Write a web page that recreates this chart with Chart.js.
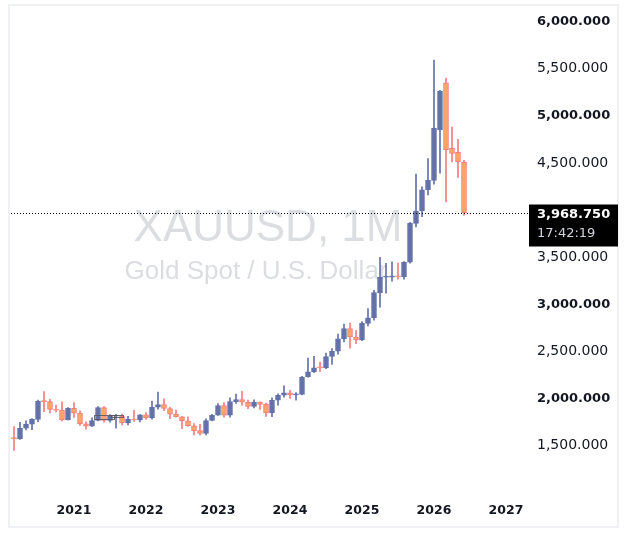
<!DOCTYPE html>
<html lang="en">
<head>
  <meta charset="UTF-8" />
  <title>XAUUSD, 1M</title>
  <script src="https://cdn.jsdelivr.net/npm/chart.js"></script>
  <style>
    html, body { margin: 0; padding: 0; background: #fff; }
    canvas { display: block; }
  </style>
</head>
<body>
  <canvas id="gold" width="629" height="538"></canvas>

  <script>
    // monthly categories (last ones are empty space to the right of the price)
    const months = [
      '2020-03','2020-04','2020-05','2020-06','2020-07','2020-08','2020-09','2020-10','2020-11','2020-12',
      '2021-01','2021-02','2021-03','2021-04','2021-05','2021-06','2021-07','2021-08','2021-09','2021-10','2021-11','2021-12',
      '2022-01','2022-02','2022-03','2022-04','2022-05','2022-06','2022-07','2022-08','2022-09','2022-10','2022-11','2022-12',
      '2023-01','2023-02','2023-03','2023-04','2023-05','2023-06','2023-07','2023-08','2023-09','2023-10','2023-11','2023-12',
      '2024-01','2024-02','2024-03','2024-04','2024-05','2024-06','2024-07','2024-08','2024-09','2024-10','2024-11','2024-12',
      '2025-01','2025-02','2025-03','2025-04','2025-05','2025-06','2025-07','2025-08','2025-09','2025-10','2025-11','2025-12',
      '2026-01','2026-02','2026-03','2026-04','2026-05','2026-06','2026-07','2026-08','2026-09','2026-10','2026-11','2026-12',
      '2027-01','2027-02','2027-03'
    ];

    const opens = [
      1586, 1577, 1687, 1730, 1781, 1975, 1968, 1886, 1879, 1776,
      1898, 1847, 1734, 1708, 1769, 1907, 1770, 1814, 1814, 1743, 1783, 1774,
      1829, 1797, 1909, 1937, 1896, 1837, 1807, 1766, 1711, 1661, 1633, 1769,
      1824, 1928, 1826, 1969, 1990, 1962, 1919, 1965, 1940, 1849, 1983, 2036,
      2063, 2040, 2044, 2230, 2286, 2327, 2326, 2447, 2503, 2634, 2744, 2654,
      2624, 2798, 2858, 3124, 3289, 3289, 3303, 3290, 3448, 3858, 3990, 4215,
      4315, 4850, 5350, 4655, 4612, 4506
    ];
    const highs = [
      1703, 1748, 1765, 1789, 1984, 2075, 1992, 1933, 1966, 1906,
      1959, 1871, 1755, 1798, 1916, 1917, 1832, 1834, 1836, 1814, 1877, 1831,
      1853, 1974, 2070, 1998, 1909, 1880, 1814, 1808, 1735, 1729, 1786, 1833,
      1949, 1959, 2009, 2049, 2079, 1984, 1987, 1966, 1953, 2009, 2052, 2135,
      2088, 2065, 2236, 2431, 2450, 2388, 2483, 2531, 2685, 2790, 2801, 2726,
      2817, 2956, 3148, 3500, 3435, 3452, 3439, 3454, 3871, 4381, 4245, 4545,
      5590, 5270, 5400, 4880, 4750, 4528
    ];
    const lows = [
      1451, 1567, 1670, 1671, 1757, 1863, 1849, 1860, 1764, 1775,
      1802, 1717, 1677, 1705, 1765, 1750, 1751, 1688, 1721, 1722, 1758, 1753,
      1780, 1782, 1890, 1872, 1787, 1805, 1681, 1709, 1615, 1617, 1616, 1765,
      1823, 1805, 1804, 1949, 1932, 1893, 1902, 1885, 1811, 1810, 1931, 2016,
      2002, 1985, 2039, 2228, 2277, 2286, 2318, 2364, 2472, 2603, 2536, 2583,
      2614, 2772, 2832, 2970, 3120, 3247, 3268, 3268, 3436, 3820, 3929, 4160,
      4275, 4390, 4085, 4510, 4345, 3945
    ];
    const closes = [
      1577, 1687, 1730, 1781, 1975, 1968, 1886, 1879, 1776, 1898,
      1847, 1734, 1708, 1769, 1907, 1770, 1814, 1814, 1743, 1783, 1774, 1829,
      1797, 1909, 1937, 1896, 1837, 1807, 1766, 1711, 1661, 1633, 1769, 1824,
      1928, 1826, 1969, 1990, 1962, 1919, 1965, 1940, 1849, 1983, 2036, 2063,
      2040, 2044, 2230, 2286, 2327, 2326, 2447, 2503, 2634, 2744, 2654, 2624,
      2798, 2858, 3124, 3289, 3289, 3303, 3290, 3448, 3858, 3990, 4215, 4315,
      4870, 5260, 4640, 4600, 4513, 3968.75
    ];

    const yearTicks = ['2021', '2022', '2023', '2024', '2025', '2026', '2027'];
    // 4,000 sits under the last-price tag, so it is left out
    const priceTicks = [1500, 2000, 2500, 3000, 3500, 4500, 5000, 5500, 6000];
    const lastPrice = 3968.75;
    const countdown = '17:42:19';

    // two little drawn boxes on the chart: [fromIndex, toIndex, topPrice, bottomPrice]
    const drawnBoxes = [
      [13.25, 16.5, 1823, 1781],
      [16.2, 18.2, 1823, 1805]
    ];

    const BULL = '#6471a9';
    const BEAR_LINE = '#f77c80';
    const BEAR_FILL = '#faa662';
    const FONT = 'DejaVu Sans';

    const isUp = closes.map((c, i) => c >= opens[i]);

    const fmt = v => v.toLocaleString('en-US', { minimumFractionDigits: 3, maximumFractionDigits: 3 });

    const overlay = {
      id: 'overlay',
      beforeDraw(chart) {
        const ctx = chart.ctx;
        ctx.save();
        ctx.strokeStyle = '#eff1f4';
        ctx.lineWidth = 2;
        ctx.strokeRect(9, 5, 609, 522);
        ctx.restore();
      },
      beforeDatasetsDraw(chart) {
        const ctx = chart.ctx;
        const a = chart.chartArea;
        const cx = (a.left + a.right) / 2;
        ctx.save();
        ctx.fillStyle = 'rgba(170,173,184,0.42)';
        ctx.textAlign = 'center';
        ctx.textBaseline = 'middle';
        ctx.font = '44px "Liberation Sans"';
        ctx.fillText('XAUUSD, 1M', cx + 2, 229);
        ctx.font = '26px "Liberation Sans"';
        ctx.fillText('Gold Spot / U.S. Dollar', cx - 10, 272);
        ctx.restore();
      },
      afterDatasetsDraw(chart) {
        const ctx = chart.ctx;
        const x = chart.scales.x, y = chart.scales.y;
        ctx.save();
        ctx.strokeStyle = 'rgba(85,85,90,0.85)';
        ctx.lineWidth = 1;
        drawnBoxes.forEach(b => {
          const x0 = x.getPixelForValue(b[0]), x1 = x.getPixelForValue(b[1]);
          const y0 = y.getPixelForValue(b[2]), y1 = y.getPixelForValue(b[3]);
          ctx.strokeRect(Math.round(x0) + 0.5, Math.round(y0) + 0.5, Math.round(x1 - x0), Math.round(y1 - y0));
        });
        ctx.restore();
      },
      afterDraw(chart) {
        const ctx = chart.ctx;
        const a = chart.chartArea;
        const py = Math.round(chart.scales.y.getPixelForValue(lastPrice)) + 0.5;
        const boxLeft = a.right + 8;
        ctx.save();
        ctx.strokeStyle = '#000';
        ctx.lineWidth = 1;
        ctx.setLineDash([1, 2]);
        ctx.beginPath();
        ctx.moveTo(a.left, py);
        ctx.lineTo(boxLeft, py);
        ctx.stroke();
        ctx.setLineDash([]);
        ctx.fillStyle = '#000';
        ctx.fillRect(boxLeft, py - 9, 618 - boxLeft, 42);
        ctx.textBaseline = 'middle';
        ctx.textAlign = 'left';
        ctx.fillStyle = '#fff';
        ctx.font = 'bold 13px "' + FONT + '"';
        ctx.fillText(fmt(lastPrice), boxLeft + 8, py + 1);
        ctx.fillStyle = '#d1d4dc';
        ctx.font = '13px "' + FONT + '"';
        ctx.fillText(countdown, boxLeft + 8, py + 20);
        ctx.restore();
      }
    };

    new Chart(document.getElementById('gold'), {
      type: 'bar',
      data: {
        labels: months,
        datasets: [
          {
            label: 'wick',
            data: lows.map((l, i) => [l, highs[i]]),
            backgroundColor: isUp.map(u => u ? BULL : BEAR_LINE),
            barThickness: 1,
            grouped: false,
            order: 2
          },
          {
            label: 'body',
            data: opens.map((o, i) => [o, closes[i]]),
            backgroundColor: isUp.map(u => u ? BULL : BEAR_FILL),
            borderColor: isUp.map(u => u ? BULL : BEAR_LINE),
            borderWidth: 1,
            borderSkipped: false,
            barThickness: 5,
            minBarLength: 1,
            grouped: false,
            order: 1
          }
        ]
      },
      options: {
        responsive: false,
        animation: false,
        devicePixelRatio: 1,
        layout: { padding: { left: 11, top: 12, right: 0, bottom: 10 } },
        plugins: {
          legend: { display: false },
          tooltip: { enabled: false }
        },
        scales: {
          x: {
            grid: { display: false, drawTicks: false },
            border: { display: false },
            ticks: {
              autoSkip: false,
              maxRotation: 0,
              padding: 10,
              color: '#131722',
              font: { family: FONT, size: 12.5, weight: 'bold' },
              callback(v, i) {
                const yr = months[i].slice(0, 4);
                return months[i].endsWith('-01') && yearTicks.includes(yr) ? yr : null;
              }
            }
          },
          y: {
            position: 'right',
            min: 1000,
            max: 6100,
            grid: { display: false, drawTicks: false },
            border: { display: false },
            afterBuildTicks(s) { s.ticks = priceTicks.map(v => ({ value: v })); },
            afterFit(s) {
              s.width = 108;
              s.paddingTop = 0;
              s.paddingBottom = 0;
            },
            ticks: {
              autoSkip: false,
              padding: 16,
              color: '#131722',
              font: c => (c.tick && c.tick.value % 1000 === 0)
                ? { family: FONT, size: 13, weight: 'bold' }
                : { family: FONT, size: 14, weight: 'normal' },
              callback: v => fmt(v)
            }
          }
        }
      },
      plugins: [overlay]
    });
  </script>
</body>
</html>
